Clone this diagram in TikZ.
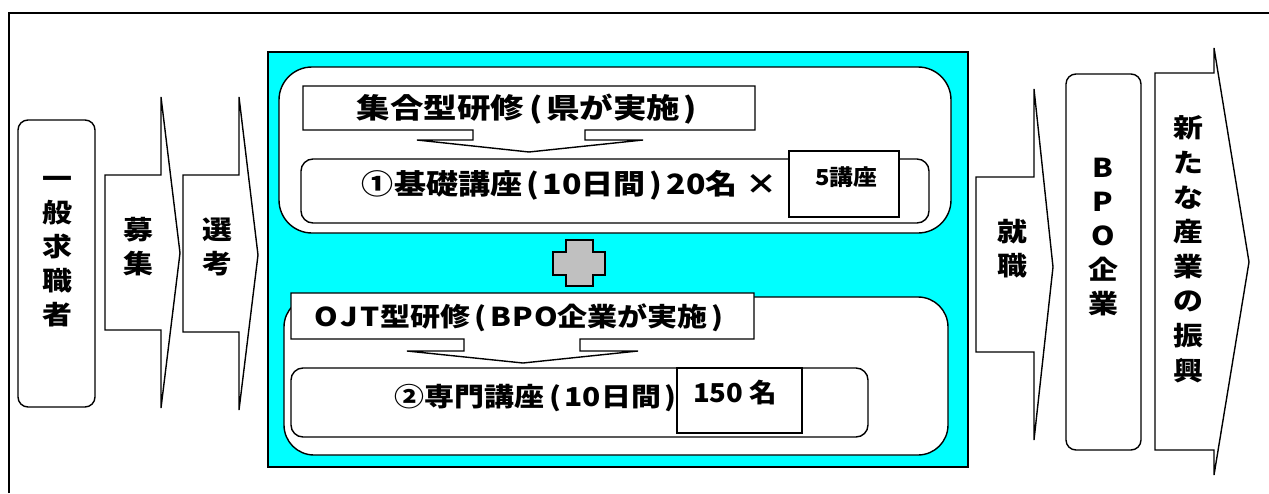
\documentclass[tikz,border=0pt]{standalone}
\usepackage{fontspec}
\setmainfont{Noto Sans CJK JP}
\usepackage{graphicx}
\definecolor{aqua}{HTML}{00FFFF}
\definecolor{plusgray}{HTML}{C0C0C0}
\newcommand\fitw[2]{\resizebox{#1}{\height}{#2}}
\newcommand\vstack[1]{\scalebox{1.15}[1]{\begin{tabular}{@{}c@{}}#1\end{tabular}}}
\newcommand\lpar{\kern4pt(\kern3pt}
\newcommand\rpar{\kern3pt)\kern4pt}
\begin{document}
\begin{tikzpicture}[x=1pt,y=-1pt,line join=miter,
  blk/.style={draw=black, line width=1.4pt, fill=white},
  vtxt/.style={inner sep=0pt, font=\bfseries\fontsize{26}{34}\selectfont},
  htxt/.style={inner sep=0pt, anchor=base},
  big/.style={font=\bfseries\fontsize{28}{30}\selectfont},
  mid/.style={font=\bfseries\fontsize{26}{30}\selectfont},
  small/.style={font=\bfseries\fontsize{22}{26}\selectfont}]
\useasboundingbox (0,0) rectangle (1269,493);
% outer frame
\draw[line width=2pt] (9,493) -- (9,13) -- (1269,13);
% left box
\draw[blk, rounded corners=10] (18,120) rectangle (95,407);
\node[vtxt] (seeker) at (57,250) {\vstack{一\\般\\求\\職\\者}};
% recruit arrow
\draw[blk] (105,175) -- (161,175) -- (161,97) -- (180,253) -- (161,408) -- (161,330) -- (105,330) -- cycle;
\node[vtxt] (boshu) at (138,249.5) {\vstack{募\\集}};
% selection arrow
\draw[blk] (183,175) -- (239,175) -- (239,97) -- (258,255) -- (239,410) -- (239,332) -- (183,332) -- cycle;
\node[vtxt] (senko) at (217,249.5) {\vstack{選\\考}};
% cyan panel
\draw[line width=2pt, fill=aqua] (268,52) rectangle (968,467);
% upper group
\draw[blk, rounded corners=33] (279,67) rectangle (951,233);
\draw[blk] (303,86) -- (755,86) -- (755,130) -- (585,130) -- (585,140) -- (643,140) -- (529,152) -- (417,140) -- (473,140) -- (473,130) -- (303,130) -- cycle;
\node[htxt, big] (t1) at (529.5,118.6) {\fitw{345pt}{集合型研修\lpar 県が実施\rpar}};
\draw[blk, rounded corners=12] (301,159) rectangle (929,223);
\node[htxt, big] (t2) at (569.5,194.6) {\fitw{415pt}{①基礎講座\lpar 10日間\rpar 20名 ×}};
\draw[blk] (789,151) rectangle (899,217);
\node[htxt, small] (t5k) at (846,185.4) {\fitw{62pt}{5講座}};
% plus
\draw[line width=1.4pt, fill=plusgray] (566,240) -- (593,240) -- (593,252) -- (605,252) -- (605,275) -- (593,275) -- (593,286) -- (566,286) -- (566,275) -- (553,275) -- (553,252) -- (566,252) -- cycle;
% lower group
\draw[blk, rounded corners=30] (284,297) rectangle (948,455);
\draw[blk] (291,293) -- (754,293) -- (754,339) -- (580,339) -- (580,351) -- (638,351) -- (523,363) -- (407,351) -- (464,351) -- (464,339) -- (291,339) -- cycle;
\node[htxt, mid] (t3) at (521.5,326.9) {\fitw{413pt}{O\kern2pt J\kern2pt T型研修\lpar B\kern1pt P\kern1pt O企業が実施\rpar}};
\draw[blk, rounded corners=12] (291,368) rectangle (868,437);
\node[htxt, mid] (t4) at (538,406.9) {\fitw{286pt}{②専門講座\lpar 10日間\rpar}};
\draw[blk] (677,368) rectangle (802,433);
\node[htxt, mid] (t150) at (735,402.9) {\fitw{84pt}{150 名}};
% employment arrow
\draw[blk] (976,177) -- (1034,177) -- (1034,89) -- (1053,267) -- (1034,440) -- (1034,352) -- (976,352) -- cycle;
\node[vtxt] (shushoku) at (1012,251.5) {\vstack{就\\職}};
% BPO box
\draw[blk, rounded corners=10] (1066,74) rectangle (1141,450);
\node[vtxt] (bpo) at (1103,238.5) {\vstack{B\\P\\O\\企\\業}};
% new industry arrow
\draw[blk] (1155,73) -- (1214,73) -- (1214,48) -- (1249,262) -- (1214,475) -- (1214,450) -- (1155,450) -- cycle;
\node[vtxt, font=\bfseries\fontsize{26}{34.6}\selectfont] (shinko) at (1188,252) {\vstack{新\\た\\な\\産\\業\\の\\振\\興}};
\end{tikzpicture}
\end{document}
